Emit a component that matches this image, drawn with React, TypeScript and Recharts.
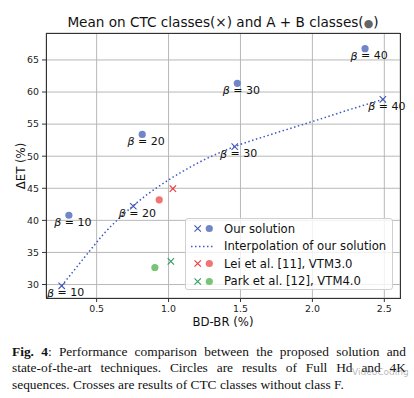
import React from 'react';
import { ComposedChart, Scatter, Line, XAxis, YAxis, CartesianGrid } from 'recharts';

// beta values used in the annotations
const betas = ['10', '20', '30', '40'];

// Our solution, CTC classes (crosses)
const ctcBdbr = [0.257, 0.755, 1.46, 2.49];
const ctcDet = [29.8, 42.2, 51.5, 58.85];

// Our solution, A + B classes (circles)
const abBdbr = [0.307, 0.817, 1.478, 2.366];
const abDet = [40.8, 53.4, 61.35, 66.75];

// Lei et al. [11], VTM3.0
const leiCross = [1.03, 44.95];
const leiCircle = [0.935, 43.2];

// Park et al. [12], VTM4.0
const parkCross = [1.016, 33.6];
const parkCircle = [0.905, 32.65];

// interpolation curve
const curveBdbr = [0.257, 0.35, 0.45, 0.55, 0.65, 0.755, 0.85, 1.0, 1.2, 1.46, 1.7, 2.0, 2.25, 2.49];
const curveDet = [29.8, 32.4, 35.2, 37.9, 40.2, 42.3, 44.0, 46.3, 48.9, 51.5, 53.3, 55.4, 57.2, 58.85];

const xTicks = [0.5, 1.0, 1.5, 2.0, 2.5];
const yTicks = [30, 35, 40, 45, 50, 55, 60, 65];

const legendLabels = ['Our solution', 'Interpolation of our solution', 'Lei et al. [11], VTM3.0', 'Park et al. [12], VTM4.0'];

const colors = {
    ourCross: '#3f56b2',
    ourCircle: '#7086c8',
    curve: '#3f5ac0',
    leiCross: '#e8343c',
    leiCircle: '#f07474',
    parkCross: '#2c9c5e',
    parkCircle: '#76c477',
};

const FONT = '"DejaVu Sans", sans-serif';

const ctcData = ctcBdbr.map((x, i) => ({ x, y: ctcDet[i], label: betas[i] }));
const abData = abBdbr.map((x, i) => ({ x, y: abDet[i], label: betas[i] }));
const curveData = curveBdbr.map((x, i) => ({ x, y: curveDet[i] }));

const BetaLabel = ({ cx, cy, label }: any) => (
    <text x={cx + 4} y={cy + 7} textAnchor="middle" dominantBaseline="central" fontSize={11} fontFamily={FONT} fill="#111">
        <tspan fontStyle="italic">β</tspan> = {label}
    </text>
);

const crossShape = (color: string) => (props: any) => {
    const { cx, cy, payload } = props;
    const s = 3.2;
    return (
        <g>
            <path d={`M${cx - s},${cy - s}L${cx + s},${cy + s}M${cx - s},${cy + s}L${cx + s},${cy - s}`} stroke={color} strokeWidth={1.1} />
            {payload && payload.label ? <BetaLabel cx={cx} cy={cy} label={payload.label} /> : null}
        </g>
    );
};

const circleShape = (color: string) => (props: any) => {
    const { cx, cy, payload } = props;
    return (
        <g>
            <circle cx={cx} cy={cy} r={3.6} fill={color} />
            {payload && payload.label ? <BetaLabel cx={cx} cy={cy} label={payload.label} /> : null}
        </g>
    );
};

const LegendBox = () => {
    const rows = [
        { cross: colors.ourCross, circle: colors.ourCircle },
        { line: colors.curve },
        { cross: colors.leiCross, circle: colors.leiCircle },
        { cross: colors.parkCross, circle: colors.parkCircle },
    ];
    return (
        <div
            style={{
                position: 'absolute',
                left: 185,
                top: 218,
                width: 208,
                height: 72,
                boxSizing: 'border-box',
                border: '1px solid #d0d0d0',
                borderRadius: 3,
                background: 'rgba(255,255,255,0.8)',
                fontFamily: FONT,
                fontSize: 11.65,
                color: '#111',
                paddingTop: 1,
            }}
        >
            {rows.map((r: any, i) => (
                <div key={i} style={{ display: 'flex', alignItems: 'center', height: 17.5 }}>
                    <svg width={38} height={17} style={{ flex: 'none' }}>
                        {r.line ? (
                            <line x1={5} y1={8.5} x2={28} y2={8.5} stroke={r.line} strokeWidth={1.5} strokeDasharray="1.5 2.5" />
                        ) : (
                            <g>
                                <path d="M8.5,5.3L14.9,11.7M8.5,11.7L14.9,5.3" stroke={r.cross} strokeWidth={1.1} />
                                <circle cx={23.3} cy={8.5} r={3.6} fill={r.circle} />
                            </g>
                        )}
                    </svg>
                    <span style={{ whiteSpace: 'nowrap' }}>{legendLabels[i]}</span>
                </div>
            ))}
        </div>
    );
};

export default function App() {
    return (
        <div style={{ position: 'absolute', left: 0, top: 0, width: 414, height: 398, background: '#fff', overflow: 'hidden' }}>
            {/* Title */}
            <div style={{ position: 'absolute', left: 0, width: 446, top: 14, textAlign: 'center', fontFamily: FONT, fontSize: 13.6, color: '#111', whiteSpace: 'nowrap' }}>
                Mean on CTC classes(×) and A + B classes(<span style={{ color: '#666', fontSize: 11 }}>●</span>)
            </div>

            <div style={{ position: 'absolute', left: 0, top: 0 }}>
                <ComposedChart width={414} height={330} margin={{ top: 33, right: 14, bottom: 12, left: 6 }}>
                    <CartesianGrid stroke="#b0b0b0" strokeWidth={0.9} />
                    <XAxis
                        type="number"
                        dataKey="x"
                        domain={[0.148, 2.609]}
                        ticks={xTicks}
                        tickFormatter={(v: number) => v.toFixed(1)}
                        axisLine={false}
                        tickSize={4}
                        tickMargin={3}
                        height={20}
                        tick={{ fontSize: 9.4, fontFamily: FONT, fill: '#222' }}
                        tickLine={{ stroke: '#333' }}
                    />
                    <YAxis
                        type="number"
                        dataKey="y"
                        domain={[27.9, 69.2]}
                        ticks={yTicks}
                        axisLine={false}
                        width={40}
                        tickSize={4}
                        tickMargin={3}
                        tick={{ fontSize: 9.4, fontFamily: FONT, fill: '#222' }}
                        tickLine={{ stroke: '#333' }}
                    />
                    <Line data={curveData} dataKey="y" type="monotone" stroke={colors.curve} strokeWidth={1.5} strokeDasharray="1.5 2.5" dot={false} activeDot={false} isAnimationActive={false} />
                    <Scatter data={[{ x: leiCross[0], y: leiCross[1] }]} shape={crossShape(colors.leiCross)} isAnimationActive={false} />
                    <Scatter data={[{ x: leiCircle[0], y: leiCircle[1] }]} shape={circleShape(colors.leiCircle)} isAnimationActive={false} />
                    <Scatter data={[{ x: parkCross[0], y: parkCross[1] }]} shape={crossShape(colors.parkCross)} isAnimationActive={false} />
                    <Scatter data={[{ x: parkCircle[0], y: parkCircle[1] }]} shape={circleShape(colors.parkCircle)} isAnimationActive={false} />
                    <Scatter data={abData} shape={circleShape(colors.ourCircle)} isAnimationActive={false} />
                    <Scatter data={ctcData} shape={crossShape(colors.ourCross)} isAnimationActive={false} />
                </ComposedChart>
            </div>

            <LegendBox />

            {/* plot frame */}
            <div style={{ position: 'absolute', left: 45.5, top: 32.5, width: 355, height: 266, boxSizing: 'border-box', border: '1.2px solid #333', pointerEvents: 'none' }} />

            {/* axis labels */}
            <div style={{ position: 'absolute', left: 0, width: 446, top: 315, textAlign: 'center', fontFamily: FONT, fontSize: 11.7, color: '#111' }}>BD-BR (%)</div>
            <div style={{ position: 'absolute', left: 21, top: 166, transform: 'translate(-50%, -50%) rotate(-90deg)', fontFamily: FONT, fontSize: 11.7, color: '#111', whiteSpace: 'nowrap' }}>ΔET (%)</div>

            {/* caption */}
            <div
                style={{
                    position: 'absolute',
                    left: 12,
                    top: 344,
                    width: 394,
                    fontFamily: '"Liberation Serif", "Times New Roman", serif',
                    fontSize: 13.4,
                    lineHeight: '16.3px',
                    textAlign: 'justify',
                    color: '#111',
                }}
            >
                <b>Fig. 4</b>: Performance comparison between the proposed solution and state-of-the-art techniques. Circles are results of Full Hd and 4K sequences. Crosses are results of CTC classes without class F.
            </div>
            <div style={{ position: 'absolute', left: 352, top: 367, fontFamily: FONT, fontSize: 9, color: 'rgba(120,120,120,0.55)' }}>VideoCoding</div>
        </div>
    );
}
